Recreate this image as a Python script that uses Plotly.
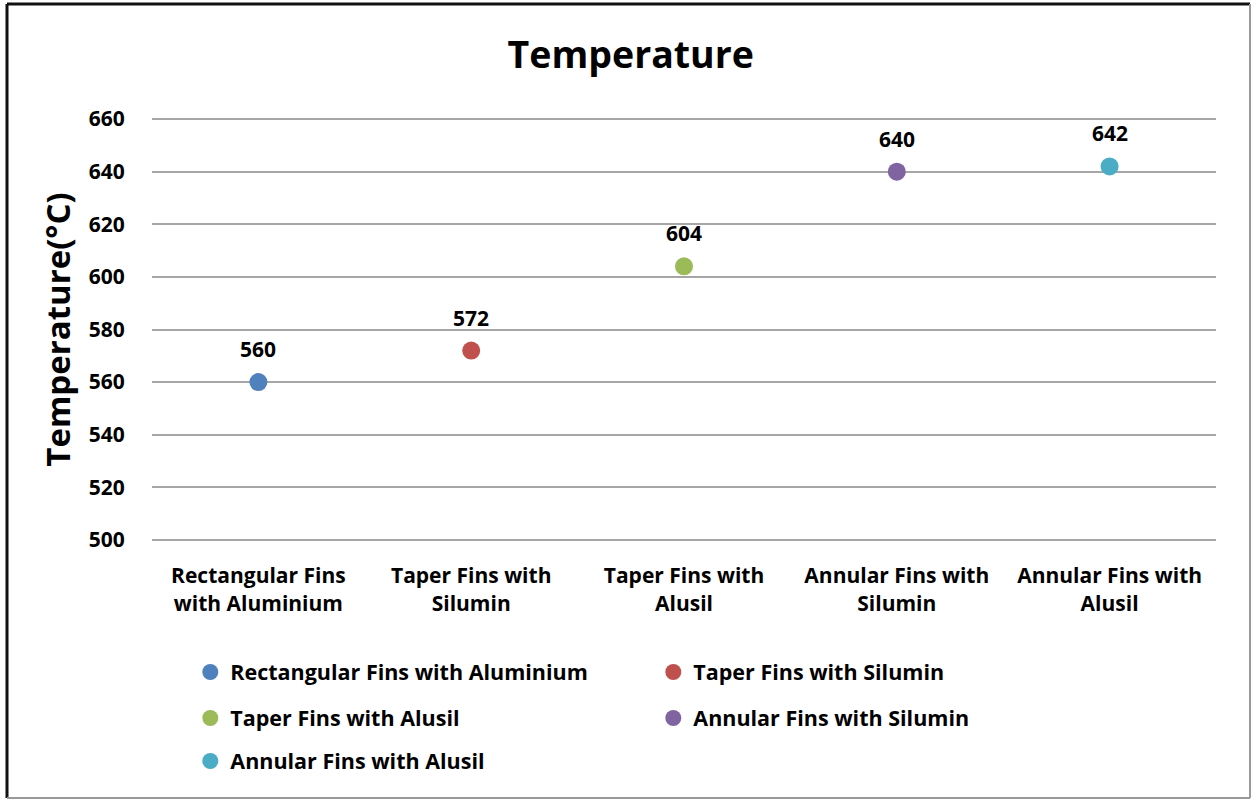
import plotly.graph_objects as go

categories = ["Rectangular Fins<br>with Aluminium", "Taper Fins with<br>Silumin", "Taper Fins with<br>Alusil",
              "Annular Fins with<br>Silumin", "Annular Fins with<br>Alusil"]
series_names = ["Rectangular Fins with Aluminium", "Taper Fins with Silumin", "Taper Fins with Alusil",
                "Annular Fins with Silumin", "Annular Fins with Alusil"]
temperatures = [560, 572, 604, 640, 642]
colors = ["#4F81BD", "#C0504D", "#9BBB59", "#8064A2", "#4BACC6"]
y_ticks = [500, 520, 540, 560, 580, 600, 620, 640, 660]
legend_ids = ["legend", "legend", "legend2", "legend2", "legend3"]

FONT = "Open Sans"

fig = go.Figure()
for cat, name, val, col, lg in zip(categories, series_names, temperatures, colors, legend_ids):
    fig.add_trace(go.Scatter(
        x=[cat], y=[val], mode="markers", name=name,
        marker=dict(color=col, size=18),
        legend=lg,
    ))
    fig.add_annotation(x=cat, y=val, text=str(val), showarrow=False, yshift=33,
                       font=dict(size=21, color="#000", family=FONT, weight="bold"))

legend_common = dict(orientation="h", xanchor="left", yanchor="middle",
                     entrywidth=418, entrywidthmode="pixels",
                     font=dict(size=21.5, color="#000", family=FONT, weight="bold"),
                     bgcolor="rgba(0,0,0,0)", itemsizing="trace")

fig.update_layout(
    width=1254, height=801,
    margin=dict(l=152, r=38, t=118, b=260),
    paper_bgcolor="white", plot_bgcolor="white",
    font=dict(family=FONT, color="#000", weight="bold"),
    title=dict(text="Temperature", x=0.503, xref="container", xanchor="center",
               y=1 - 55 / 801, yref="container", yanchor="middle",
               font=dict(size=37.5, color="#000", family=FONT, weight="bold")),
    showlegend=True,
    legend=dict(x=0.036, y=(541 - 672) / 423, **legend_common),
    legend2=dict(x=0.036, y=(541 - 718) / 423, **legend_common),
    legend3=dict(x=0.036, y=(541 - 761) / 423, **legend_common),
    xaxis=dict(type="category", categoryorder="array", categoryarray=categories,
               range=[-0.5, 4.5],
               showgrid=False, showline=False, zeroline=False,
               ticks="outside", ticklen=16, tickcolor="rgba(0,0,0,0)",
               tickfont=dict(size=21, family=FONT, color="#000", weight="bold")),
    yaxis=dict(range=[499.6, 660.4], tickvals=y_ticks, showgrid=True, gridcolor="#A6A6A6", gridwidth=2,
               zeroline=False, showline=False,
               ticks="outside", ticklen=22, tickcolor="rgba(0,0,0,0)",
               tickfont=dict(size=21, family=FONT, color="#000", weight="bold"),
               title=dict(text="Temperature(°C)", standoff=8,
                          font=dict(size=33, family=FONT, color="#000", weight="bold"))),
)

# figure border
x0 = (7 - 152) / 1064
x1 = (1250 - 152) / 1064
y0 = (541 - 798) / 423
y1 = (541 - 4) / 423
fig.add_shape(type="line", xref="paper", yref="paper", x0=x0, x1=x1, y0=y1, y1=y1,
              line=dict(color="#111", width=3))
fig.add_shape(type="line", xref="paper", yref="paper", x0=x0, x1=x0, y0=y0, y1=y1,
              line=dict(color="#111", width=3))
fig.add_shape(type="line", xref="paper", yref="paper", x0=x1, x1=x1, y0=y0, y1=y1,
              line=dict(color="#999", width=2))
fig.add_shape(type="line", xref="paper", yref="paper", x0=x0, x1=x1, y0=y0, y1=y0,
              line=dict(color="#999", width=2))

fig.write_html("out.html", config={"displayModeBar": False},
               post_script="document.body.style.margin='0';")
